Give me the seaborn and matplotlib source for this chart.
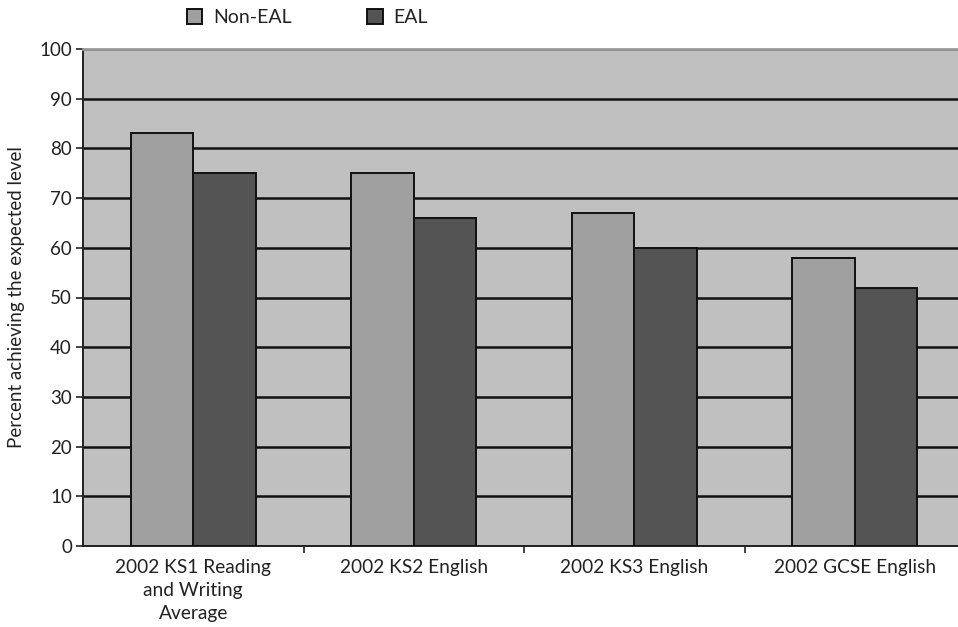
import matplotlib
matplotlib.use("Agg")
import matplotlib.pyplot as plt
import seaborn as sns
import pandas as pd
from matplotlib.ticker import FixedLocator

# Attainment data
categories = [
    "2002 KS1 Reading\nand Writing\nAverage",
    "2002 KS2 English",
    "2002 KS3 English",
    "2002 GCSE English",
]
groups = ["Non-EAL", "EAL"]
non_eal = [83, 75, 67, 58]
eal = [75, 66, 60, 52]
y_ticks = [0, 10, 20, 30, 40, 50, 60, 70, 80, 90, 100]

df = pd.DataFrame({
    "category": categories * 2,
    "group": [groups[0]] * len(categories) + [groups[1]] * len(categories),
    "value": non_eal + eal,
})

sns.set_theme(style="white")
plt.rcParams["font.family"] = ["Lato", "DejaVu Sans"]

W, H = 958, 627
fig = plt.figure(figsize=(W / 100, H / 100), dpi=100)
ax = fig.add_axes([83 / W, (H - 546) / H, (965 - 83) / W, 497 / H])

palette = {"Non-EAL": "#a0a0a0", "EAL": "#545454"}
sns.barplot(
    data=df, x="category", y="value", hue="group", order=categories,
    hue_order=groups, palette=palette, width=0.567, gap=0,
    edgecolor="#111111", linewidth=1.4, saturation=1, ax=ax, legend=False,
    zorder=3,
)

ax.set_facecolor("#c0c0c0")
ax.set_xlim(-0.5, 3.5)
ax.set_ylim(0, 100)
ax.set_yticks(y_ticks)
ax.yaxis.grid(True, color="#111111", linewidth=1.8, zorder=1)
ax.xaxis.grid(False)
ax.set_axisbelow(True)

for side in ["left", "bottom"]:
    ax.spines[side].set_color("#222222")
    ax.spines[side].set_linewidth(1.4)
ax.spines["top"].set_color("#9a9a9a")
ax.spines["top"].set_linewidth(2)
ax.spines["right"].set_visible(False)

ax.tick_params(axis="y", which="major", length=5, width=1.2, color="#222222",
               labelsize=13.5, labelcolor="#222222", pad=3, left=True)
ax.tick_params(axis="x", which="major", length=0, labelsize=13.8,
               labelcolor="#222222", pad=9)
for lbl in ax.get_xticklabels():
    lbl.set_linespacing(1.45)
ax.xaxis.set_minor_locator(FixedLocator([0.5, 1.5, 2.5, 3.5]))
ax.tick_params(axis="x", which="minor", length=5, width=1.2, color="#222222",
               bottom=True)

ax.set_xlabel("")
ax.set_ylabel("Percent achieving the expected level", fontsize=13.5,
              color="#222222", labelpad=10)

handles = [
    plt.Rectangle((0, 0), 1, 1, facecolor=palette[g], edgecolor="#111111",
                  linewidth=1.4)
    for g in groups
]
fig.legend(handles, groups, loc="center", bbox_to_anchor=(0.321, 0.972),
           ncol=2, frameon=False, fontsize=14, handlelength=0.8,
           handleheight=0.8, handletextpad=0.55, columnspacing=3.9,
           labelcolor="#222222")

fig.savefig("out.png", dpi=100, facecolor="white")
